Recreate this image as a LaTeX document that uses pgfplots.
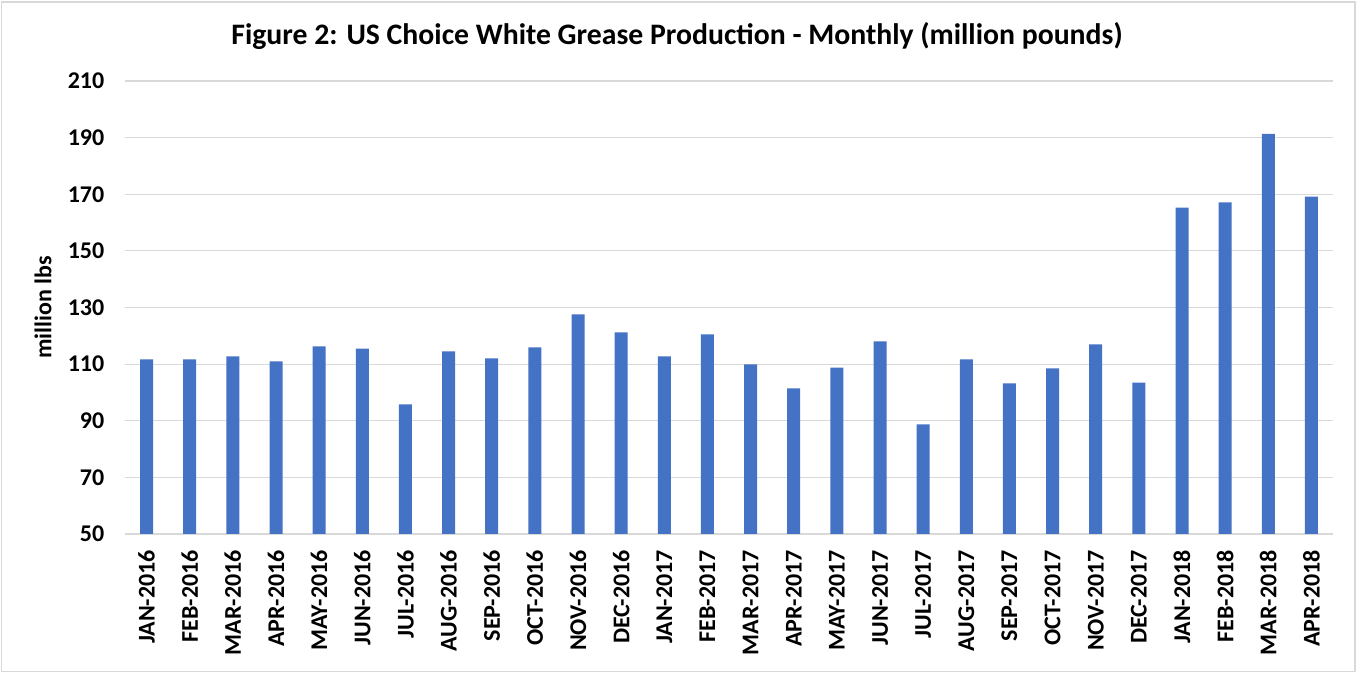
\documentclass[border=0pt]{standalone}
\usepackage{pgfplots}
\pgfplotsset{compat=1.18}
\usepackage{fontspec}
\setmainfont{Carlito}
\definecolor{barblue}{HTML}{4472C4}
\definecolor{gridgray}{HTML}{D9D9D9}
\pgfplotstableread{
x y
0 111.7
1 111.7
2 112.7
3 111.0
4 116.3
5 115.5
6 95.8
7 114.5
8 112.0
9 115.9
10 127.6
11 121.2
12 112.7
13 120.5
14 109.9
15 101.4
16 108.8
17 118.0
18 88.7
19 111.7
20 103.2
21 108.5
22 117.0
23 103.5
24 165.3
25 167.1
26 191.3
27 169.2
}\datatable
\begin{document}
\begin{tikzpicture}
\useasboundingbox (0,0) rectangle (1017.75pt,504.75pt);
\draw[gridgray, line width=0.9pt] (1.2pt,1.2pt) rectangle (1016.2pt,503.2pt);
\node[anchor=base, font=\fontsize{22.3}{25}\selectfont\bfseries] at (507.75pt,471pt) {Figure 2: US Choice White Grease Production - Monthly (million pounds)};
\begin{axis}[
  at={(93.75pt,104.25pt)}, anchor=south west,
  scale only axis, width=906pt, height=339.75pt,
  ymin=50, ymax=210, ytick={50,70,...,210},
  xmin=-0.5, xmax=27.5,
  xtick={0,...,27},
  xticklabels={JAN-2016,FEB-2016,MAR-2016,APR-2016,MAY-2016,JUN-2016,JUL-2016,AUG-2016,SEP-2016,OCT-2016,NOV-2016,DEC-2016,JAN-2017,FEB-2017,MAR-2017,APR-2017,MAY-2017,JUN-2017,JUL-2017,AUG-2017,SEP-2017,OCT-2017,NOV-2017,DEC-2017,JAN-2018,FEB-2018,MAR-2018,APR-2018},
  axis x line*=bottom, axis y line*=left,
  y axis line style={draw=none},
  x axis line style={draw=gridgray, line width=0.9pt, -},
  major tick length=0pt,
  ymajorgrids, grid style={draw=gridgray, line width=0.9pt},
  /pgf/number format/assume math mode=true,
  ticklabel style={font=\fontsize{18}{20}\selectfont\bfseries},
  yticklabel style={anchor=east, xshift=-12pt},
  xticklabel style={rotate=90, anchor=east, xshift=-8.5pt},
  ylabel={million lbs},
  ylabel style={at={(axis description cs:-0.0679,0.5)}, anchor=center, font=\fontsize{18}{20}\selectfont\bfseries},
  ybar, bar width=9.75pt,
]
\addplot[fill=barblue, draw=none] table[x=x,y=y] {\datatable};
\end{axis}
\end{tikzpicture}
\end{document}
